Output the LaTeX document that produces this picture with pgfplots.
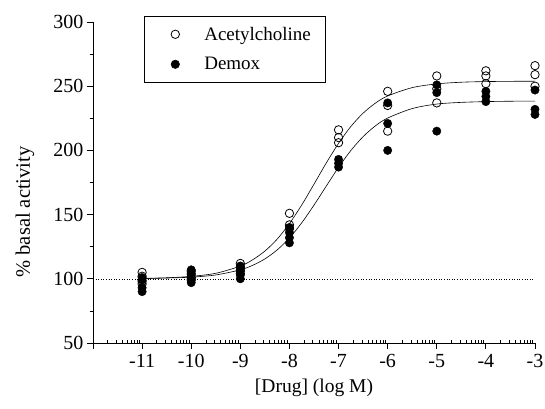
\documentclass[border=0pt]{standalone}
\usepackage{pgfplots}
\pgfplotsset{compat=1.18}
\usepackage{fontspec}
\setmainfont{Liberation Serif}

\begin{document}
\begin{tikzpicture}[font=\fontsize{19}{22}\selectfont]
\path[use as bounding box] (-93pt,-65pt) rectangle (452pt,343pt);

\begin{axis}[
    at={(0,0)}, anchor=south west,
    scale only axis,
    width=442pt, height=321pt,
    axis lines=left,
    axis line style={-, line width=0.9pt},
    xmin=-12, xmax=-3,
    ymin=50, ymax=300,
    xtick={-12,-11,-10,-9,-8,-7,-6,-5,-4,-3},
    xticklabels={{},-11,-10,-9,-8,-7,-6,-5,-4,-3},
    minor xtick={-11.699,-11.523,-11.398,-11.301,-11.222,-11.155,-11.097,-11.046,
                 -10.699,-10.523,-10.398,-10.301,-10.222,-10.155,-10.097,-10.046,
                 -9.699,-9.523,-9.398,-9.301,-9.222,-9.155,-9.097,-9.046,
                 -8.699,-8.523,-8.398,-8.301,-8.222,-8.155,-8.097,-8.046,
                 -7.699,-7.523,-7.398,-7.301,-7.222,-7.155,-7.097,-7.046,
                 -6.699,-6.523,-6.398,-6.301,-6.222,-6.155,-6.097,-6.046,
                 -5.699,-5.523,-5.398,-5.301,-5.222,-5.155,-5.097,-5.046,
                 -4.699,-4.523,-4.398,-4.301,-4.222,-4.155,-4.097,-4.046,
                 -3.699,-3.523,-3.398,-3.301,-3.222,-3.155,-3.097,-3.046},
    ytick={50,100,150,200,250,300},
    minor ytick={75,125,175,225,275},
    tick align=outside,
    major tick length=6pt,
    minor tick length=3pt,
    every tick/.style={black, line width=0.8pt},
    minor x tick style={yshift=3pt},
    /pgf/number format/assume math mode=true,
    tick label style={font=\fontsize{20}{23}\selectfont},
    xticklabel style={yshift=-2pt},
    xlabel={[Drug] (log M)},
    ylabel={\% basal activity},
    xlabel style={font=\fontsize{19.5}{23}\selectfont, yshift=-4pt},
    ylabel style={font=\fontsize{20.5}{23}\selectfont,
        at={(axis description cs:0,0.408)}, anchor=center, yshift=68pt},
    legend image code/.code={
        \path[draw=none, fill=none] (0pt,-14pt) rectangle (46pt,14pt);
        \draw[#1] plot coordinates {(17pt,0pt)};
    },
    legend style={
        at={(rel axis cs:0.1154,1.0187)}, anchor=north west,
        draw=black, line width=0.6pt,
        font=\fontsize{19}{22}\selectfont,
        inner xsep=14pt, inner ysep=4pt,
        row sep=2pt, column sep=0pt,
        nodes={inner sep=0pt},
    },
    legend cell align=left,
    clip=false,
]

% dotted baseline
\addplot[black, dotted, line width=0.6pt, forget plot] coordinates {(-12,100) (-3,100)};

% fitted curves
\addplot[black, line width=0.6pt, smooth, forget plot] coordinates {
    (-11,100.3) (-10.5,100.8) (-10,101.9) (-9.5,104.3) (-9,109.9) (-8.75,114.8)
    (-8.5,121.6) (-8.25,130.9) (-8,143.0) (-7.75,157.5) (-7.5,173.7) (-7.25,190.2)
    (-7,205.5) (-6.75,218.6) (-6.5,229.0) (-6.25,236.8) (-6,242.4) (-5.5,248.9)
    (-5,251.8) (-4.5,253.1) (-4,253.6) (-3.5,253.8) (-3,253.9)
};
\addplot[black, line width=0.6pt, smooth, forget plot] coordinates {
    (-11,100.2) (-10.5,100.6) (-10,101.3) (-9.5,103.0) (-9,107.0) (-8.75,110.5)
    (-8.5,115.5) (-8.25,122.5) (-8,131.8) (-7.75,143.6) (-7.5,157.4) (-7.25,172.2)
    (-7,186.8) (-6.75,199.9) (-6.5,210.7) (-6.25,219.1) (-6,225.2) (-5.5,232.6)
    (-5,236.1) (-4.5,237.4) (-4,238.0) (-3.5,238.3) (-3,238.4)
};

% Acetylcholine
\addplot[only marks, mark=o, mark size=4.2pt, mark options={draw=black, fill=white, line width=0.8pt}] coordinates {
    (-11,105) (-11,102) (-11,98) (-11,96)
    (-10,106) (-10,104) (-10,101) (-10,99)
    (-9,112) (-9,109) (-9,106) (-9,104)
    (-8,151) (-8,142) (-8,139)
    (-7,216) (-7,210) (-7,206)
    (-6,246) (-6,235) (-6,215)
    (-5,258) (-5,248) (-5,237)
    (-4,262) (-4,258) (-4,252)
    (-3,266) (-3,259) (-3,250)
};
\addlegendentry{Acetylcholine}

% Demox
\addplot[only marks, mark=*, mark size=4.2pt, mark options={draw=black, fill=black}] coordinates {
    (-11,101) (-11,99) (-11,93) (-11,90)
    (-10,107) (-10,103) (-10,100) (-10,97)
    (-9,110) (-9,107) (-9,103) (-9,100)
    (-8,140) (-8,136) (-8,132) (-8,128)
    (-7,193) (-7,190) (-7,187)
    (-6,237) (-6,221) (-6,200)
    (-5,251) (-5,245) (-5,215)
    (-4,246) (-4,242) (-4,238)
    (-3,247) (-3,232) (-3,228)
};
\addlegendentry{Demox}

\end{axis}
\end{tikzpicture}
\end{document}
